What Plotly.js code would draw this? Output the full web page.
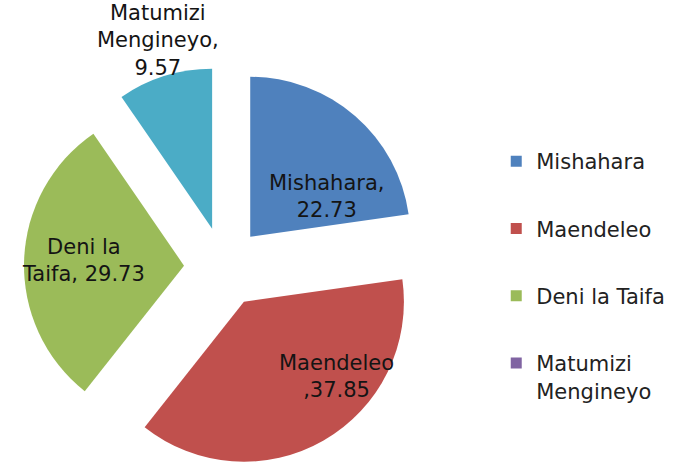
<!DOCTYPE html>
<html><head><meta charset="utf-8">
<script src="https://cdn.plot.ly/plotly-3.0.1.min.js"></script>
<style>html,body{margin:0;padding:0;background:#fff;overflow:hidden}#chart{width:677px;height:467px}</style>
</head><body><div id="chart"></div>
<script>
const categories = ['Mishahara', 'Maendeleo', 'Deni la Taifa', 'Matumizi Mengineyo'];
const values = [22.73, 37.85, 29.73, 9.57];
const sliceLabels = ['Mishahara', 'Maendeleo', 'Deni la<br>Taifa', 'Matumizi<br>Mengineyo'];
const legendNames = ['Mishahara', 'Maendeleo', 'Deni la Taifa', 'Matumizi<br>Mengineyo'];
const sliceColors = ['#4F81BD', '#C0504D', '#9BBB59', '#4BACC6'];
const legendColors = ['#4F81BD', '#C0504D', '#9BBB59', '#8064A2'];
// label separator between name and value for each slice
const labelSeps = [',<br>', '<br>,', ', ', ',<br>'];

const FONT = 'DejaVu Sans, Verdana, sans-serif';
const W = 677, H = 467, T = 67;
// label centres in pixels (layout only)
const labelPx = [[326, 196], [336, 376], [83, 260], [158, 40]];

const pie = {
  type: 'pie',
  labels: categories,
  values: values,
  textinfo: 'none',
  sort: false,
  direction: 'clockwise',
  rotation: 0,
  pull: categories.map(() => 0.25),
  marker: {colors: sliceColors, line: {width: 0}},
  showlegend: false,
  hoverinfo: 'label+value',
  domain: {x: [0, 448 / W], y: [0, 1]}
};

const legendTraces = categories.map((c, i) => ({
  type: 'scatter', mode: 'markers', x: [null], y: [null],
  name: legendNames[i], legendgroup: 'g' + i,
  marker: {symbol: 'square', size: 11, color: legendColors[i]},
  hoverinfo: 'skip'
}));

const annotations = categories.map((c, i) => ({
  xref: 'paper', yref: 'paper',
  x: labelPx[i][0] / W, y: (H - labelPx[i][1]) / (H - T),
  xanchor: 'center', yanchor: 'middle', showarrow: false,
  text: sliceLabels[i] + labelSeps[i] + values[i],
  font: {family: FONT, size: 21, color: '#141414'}
}));

const layout = {
  width: W, height: H,
  margin: {l: 0, r: 0, t: T, b: 0},
  paper_bgcolor: '#fff', plot_bgcolor: 'rgba(0,0,0,0)',
  xaxis: {visible: false}, yaxis: {visible: false},
  showlegend: true,
  annotations: annotations,
  legend: {
    x: 0.733, xanchor: 'left', y: 0.815, yanchor: 'top',
    font: {family: FONT, size: 21, color: '#222'},
    tracegroupgap: 37, valign: 'top', bgcolor: 'rgba(0,0,0,0)'
  }
};

Plotly.newPlot('chart', [pie].concat(legendTraces), layout, {displayModeBar: false, staticPlot: true});
</script>
</body></html>
